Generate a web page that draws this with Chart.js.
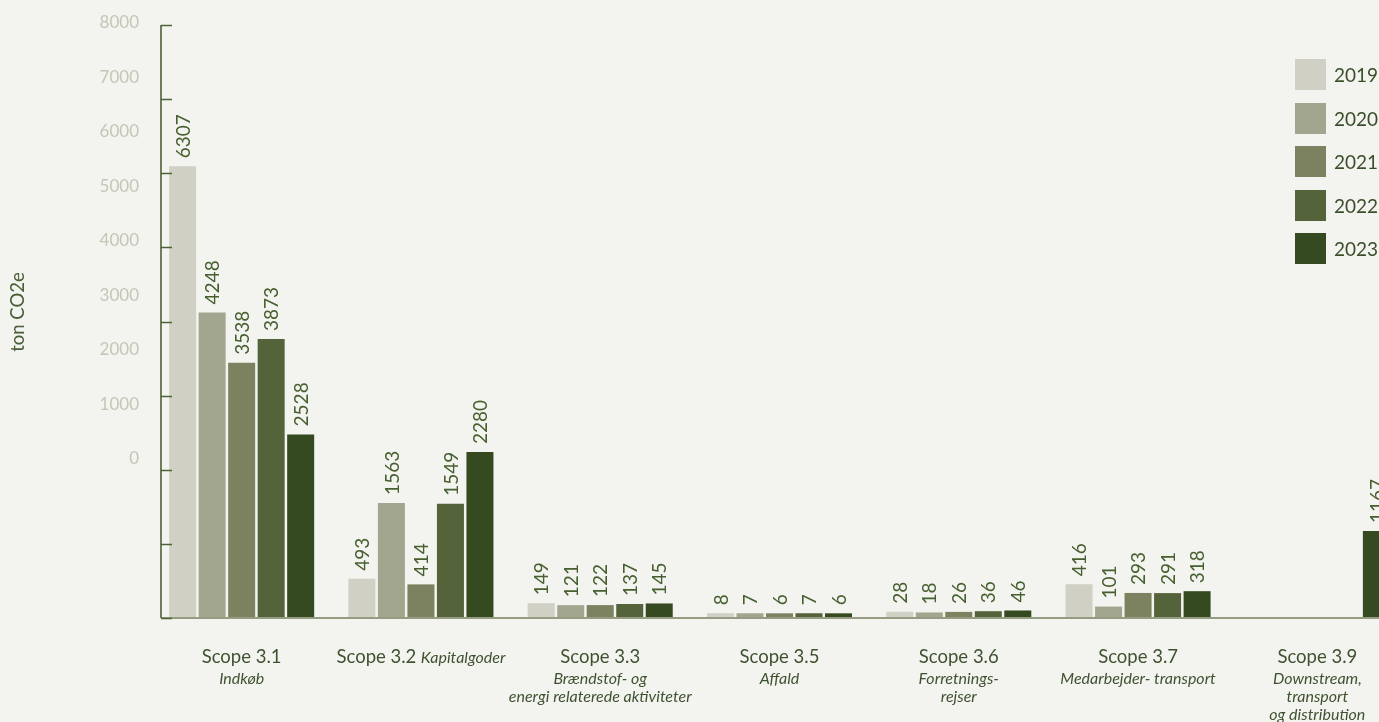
<!DOCTYPE html>
<html lang="da">
<head>
<meta charset="utf-8">
<title>Scope 3 – ton CO2e</title>
<script src="https://cdn.jsdelivr.net/npm/chart.js@4.4.1/dist/chart.umd.min.js"></script>
<style>
  html, body { margin: 0; padding: 0; background: #f3f3ef; overflow: hidden; }
  #wrap { position: relative; width: 1407px; height: 722px; }
  #legend { position: absolute; left: 1295px; top: 59px; font-family: Lato, sans-serif; font-size: 19px; color: #3b4e2a; }
  .item { display: flex; align-items: center; height: 31px; margin-bottom: 12.5px; white-space: nowrap; }
  .swatch { width: 31px; height: 31px; margin-right: 8px; }
</style>
</head>
<body>
<div id="wrap">
  <canvas id="scopeChart"></canvas>
  <div id="legend"></div>
</div>
<script>
// categories and their italic descriptions
const categories = ['Scope 3.1', 'Scope 3.2', 'Scope 3.3', 'Scope 3.5', 'Scope 3.6', 'Scope 3.7', 'Scope 3.9'];
const subtitles = [
  ['Indkøb'],
  ['Kapitalgoder'],
  ['Brændstof- og', 'energi relaterede aktiviteter'],
  ['Affald'],
  ['Forretnings-', 'rejser'],
  ['Medarbejder- transport'],
  ['Downstream,', 'transport', 'og distribution']
];
const inlineSubtitle = [false, true, false, false, false, false, false];

// ton CO2e per year
const years = ['2019', '2020', '2021', '2022', '2023'];
const values2019 = [6307, 493, 149, 8, 28, 416, null];
const values2020 = [4248, 1563, 121, 7, 18, 101, null];
const values2021 = [3538, 414, 122, 6, 26, 293, null];
const values2022 = [3873, 1549, 137, 7, 36, 291, null];
const values2023 = [2528, 2280, 145, 6, 46, 318, 1167];
const yearColors = ['#d0d0c5', '#a3a68e', '#7c8260', '#55633a', '#354a20'];

const yTickLabels = [0, 1000, 2000, 3000, 4000, 5000, 6000, 7000, 8000];

const FONT = 'Lato, "Open Sans", sans-serif';
const TEXT_GREEN = '#3f5230';

// **Axis line, baseline and short inward tick marks**
const axisDecor = {
  id: 'axisDecor',
  afterDatasetsDraw(chart) {
    const { ctx, chartArea, scales: { y } } = chart;
    const ax = chartArea.left + 9;
    ctx.save();
    ctx.lineWidth = 2;
    ctx.strokeStyle = '#959c82';
    ctx.beginPath();
    ctx.moveTo(ax, chartArea.bottom);
    ctx.lineTo(chartArea.right, chartArea.bottom);
    ctx.stroke();

    ctx.strokeStyle = '#6f7d5c';
    ctx.beginPath();
    ctx.moveTo(ax, chartArea.top);
    ctx.lineTo(ax, chartArea.bottom);
    ctx.stroke();

    ctx.lineWidth = 1.5;
    ctx.strokeStyle = '#4f6338';
    y.ticks.forEach(t => {
      const py = Math.round(y.getPixelForValue(t.value)) + 0.5;
      ctx.beginPath();
      ctx.moveTo(ax, py);
      ctx.lineTo(ax + 11, py);
      ctx.stroke();
    });

    // unit title
    ctx.translate(18, 312);
    ctx.rotate(-Math.PI / 2);
    ctx.font = '18.5px ' + FONT;
    ctx.fillStyle = '#4a5e35';
    ctx.textAlign = 'center';
    ctx.textBaseline = 'middle';
    ctx.fillText('ton CO2e', 0, 0);
    ctx.restore();
  }
};

// **Rotated value labels above every bar**
const barValues = {
  id: 'barValues',
  afterDatasetsDraw(chart) {
    const { ctx } = chart;
    ctx.save();
    ctx.font = '19px ' + FONT;
    ctx.fillStyle = '#47602f';
    ctx.textAlign = 'left';
    ctx.textBaseline = 'middle';
    chart.data.datasets.forEach((ds, di) => {
      chart.getDatasetMeta(di).data.forEach((bar, i) => {
        const v = ds.data[i];
        if (v === null || v === undefined) return;
        ctx.save();
        ctx.translate(bar.x, bar.y - 8);
        ctx.rotate(-Math.PI / 2);
        ctx.fillText(String(v), 0, 1);
        ctx.restore();
      });
    });
    ctx.restore();
  }
};

// **Category names with italic descriptions under the baseline**
const categoryLabels = {
  id: 'categoryLabels',
  afterDraw(chart) {
    const { ctx, chartArea, scales: { x } } = chart;
    const mainY = chartArea.bottom + 45;
    ctx.save();
    ctx.fillStyle = TEXT_GREEN;
    ctx.textBaseline = 'alphabetic';
    categories.forEach((name, i) => {
      const cx = x.getPixelForValue(i);
      const mainFont = '18.5px ' + FONT;
      const subFont = 'italic 16px ' + FONT;
      if (inlineSubtitle[i]) {
        ctx.font = mainFont;
        const wMain = ctx.measureText(name).width;
        ctx.font = subFont;
        const wSub = ctx.measureText(subtitles[i][0]).width;
        const gap = 4.5;
        const start = cx - (wMain + gap + wSub) / 2;
        ctx.textAlign = 'left';
        ctx.font = mainFont;
        ctx.fillText(name, start, mainY);
        ctx.font = subFont;
        ctx.fillText(subtitles[i][0], start + wMain + gap, mainY);
      } else {
        ctx.textAlign = 'center';
        ctx.font = mainFont;
        ctx.fillText(name, cx, mainY);
        ctx.font = subFont;
        subtitles[i].forEach((line, k) => {
          ctx.fillText(line, cx, mainY + 20.5 + k * 18.3);
        });
      }
    });
    ctx.restore();
  }
};

const seriesValues = [values2019, values2020, values2021, values2022, values2023];

function setup() {
  const ctx = document.getElementById('scopeChart').getContext('2d');
  new Chart(ctx, {
    type: 'bar',
    data: {
      labels: categories,
      datasets: years.map((yr, i) => ({
        label: yr,
        data: seriesValues[i],
        backgroundColor: yearColors[i],
        borderWidth: 0
      }))
    },
    options: {
      responsive: true,
      maintainAspectRatio: false,
      animation: false,
      layout: { padding: { top: 25, bottom: 104, left: 0, right: 0 } },
      datasets: { bar: { categoryPercentage: 0.823, barPercentage: 0.915, base: -60 } },
      plugins: { legend: { display: false }, tooltip: { enabled: false } },
      scales: {
        x: { display: false },
        y: {
          display: false,
          min: -60,
          max: 8300,
          afterBuildTicks(scale) {
            const step = (scale.max - scale.min) / 8;
            scale.ticks = Array.from({ length: 9 }, (_, k) => ({ value: scale.min + k * step }));
          }
        },
        yl: {
          type: 'linear',
          position: 'left',
          min: -2927,
          max: 7958,
          grid: { display: false },
          border: { display: false },
          ticks: {
            padding: 5,
            autoSkip: false,
            color: '#c5c6b6',
            font: { family: FONT, size: 17 },
            callback: v => String(v)
          },
          afterBuildTicks(scale) {
            scale.ticks = yTickLabels.map(v => ({ value: v }));
          },
          afterFit(scale) {
            scale.width = 152;
          }
        }
      }
    },
    plugins: [axisDecor, barValues, categoryLabels]
  });

  // legend built from the same years/colours
  const legend = document.getElementById('legend');
  years.forEach((yr, i) => {
    const item = document.createElement('div');
    item.className = 'item';
    const sw = document.createElement('span');
    sw.className = 'swatch';
    sw.style.background = yearColors[i];
    const txt = document.createElement('span');
    txt.textContent = yr;
    item.appendChild(sw);
    item.appendChild(txt);
    legend.appendChild(item);
  });
}

window.addEventListener('DOMContentLoaded', setup);
</script>
</body>
</html>
